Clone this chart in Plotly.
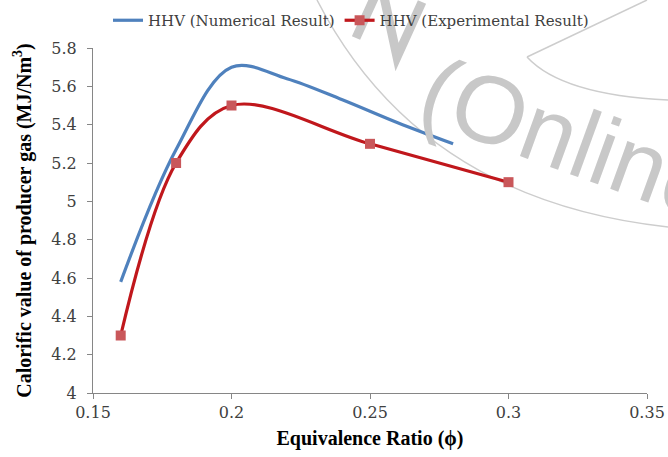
import plotly.graph_objects as go

# Data
num_x = [0.16, 0.18, 0.20, 0.22, 0.24, 0.26, 0.28]
num_y = [4.58, 5.27, 5.70, 5.64, 5.53, 5.41, 5.30]
exp_x = [0.16, 0.18, 0.20, 0.25, 0.30]
exp_y = [4.30, 5.20, 5.50, 5.30, 5.10]
x_ticks = [0.15, 0.2, 0.25, 0.3, 0.35]
x_tick_labels = ["0.15", "0.2", "0.25", "0.3", "0.35"]
y_ticks = [4, 4.2, 4.4, 4.6, 4.8, 5, 5.2, 5.4, 5.6, 5.8]
y_tick_labels = ["4", "4.2", "4.4", "4.6", "4.8", "5", "5.2", "5.4", "5.6", "5.8"]

W, H = 668, 457
L, R, T, B = 93, 21, 48, 64
pw, ph = W - L - R, H - T - B
SERIF = "Liberation Serif"
REG = "DejaVu Serif"
SANS = "Liberation Sans, Arial, sans-serif"

def px(x):
    return (x - L) / pw

def py(y):
    return (H - B - y) / ph

fig = go.Figure()

fig.add_trace(go.Scatter(
    x=num_x, y=num_y, mode="lines", name="HHV (Numerical Result)",
    line=dict(color="#4F81BD", width=3.2, shape="spline", smoothing=1.0),
))
fig.add_trace(go.Scatter(
    x=exp_x, y=exp_y, mode="lines+markers", name="HHV (Experimental Result)",
    line=dict(color="#C0171C", width=3.2, shape="spline", smoothing=1.0),
    marker=dict(symbol="square", size=10, color="#C9575A"),
))

# Watermark (background)
wm = "#CDCDCD"
shapes = [
    dict(type="path", xref="paper", yref="paper", layer="below",
         path=f"M {px(317)},{py(0)} Q {px(420)},{py(200)} {px(668)},{py(227)}",
         line=dict(color=wm, width=1.5)),
    dict(type="path", xref="paper", yref="paper", layer="below",
         path=f"M {px(527)},{py(57)} Q {px(562)},{py(95)} {px(668)},{py(100)}",
         line=dict(color=wm, width=1.5)),
    dict(type="line", xref="paper", yref="paper", layer="below",
         x0=px(527), y0=py(57), x1=px(647), y1=py(0),
         line=dict(color=wm, width=1.5)),
    dict(type="path", xref="paper", yref="paper", layer="below",
         path=(f"M {px(356)},{py(38)} L {px(381)},{py(-17)} "
               f"L {px(397)},{py(57)} L {px(422)},{py(2)}"),
         line=dict(color="#C8C8C8", width=9)),
]

annotations = [
    dict(text="(Online", xref="paper", yref="paper", x=px(570), y=py(138),
         xanchor="center", yanchor="middle",
         showarrow=False, textangle=20,
         font=dict(family=SANS, size=96, color="#C8C8C8")),
]

fig.update_layout(
    width=W, height=H,
    margin=dict(l=L, r=R, t=T, b=B, autoexpand=False),
    paper_bgcolor="white", plot_bgcolor="rgba(0,0,0,0)",
    font=dict(family=REG, size=16, color="#404040"),
    showlegend=True,
    legend=dict(orientation="h", x=px(108), y=py(4), xanchor="left", yanchor="top",
                font=dict(family=REG, size=15, color="#404040"), bgcolor="rgba(0,0,0,0)",
                itemwidth=30, tracegroupgap=0),
    shapes=shapes,
    annotations=annotations,
    xaxis=dict(
        range=[0.15, 0.35], tickvals=x_ticks, ticktext=x_tick_labels, automargin=False,
        showgrid=False, zeroline=False, showline=True, linecolor="#868686", linewidth=1,
        ticks="outside", ticklen=5, tickcolor="#868686",
        tickfont=dict(family=REG, size=16, color="#404040"),
        title=dict(text="<b>Equivalence Ratio (ϕ)</b>",
                   font=dict(family=SERIF, size=20, color="black"), standoff=9),
    ),
    yaxis=dict(
        range=[4, 5.8], tickvals=y_ticks, ticktext=y_tick_labels, automargin=False,
        showgrid=False, zeroline=False, showline=True, linecolor="#868686", linewidth=1,
        ticks="outside", ticklen=5, tickcolor="#868686", ticklabelstandoff=7,
        tickfont=dict(family=REG, size=16, color="#404040"),
        title=dict(text="<b>Calorific value of producer gas (MJ/Nm<sup>3</sup>)</b>",
                   font=dict(family=SERIF, size=20, color="black"), standoff=14),
    ),
)

fig.write_html("out.html")
